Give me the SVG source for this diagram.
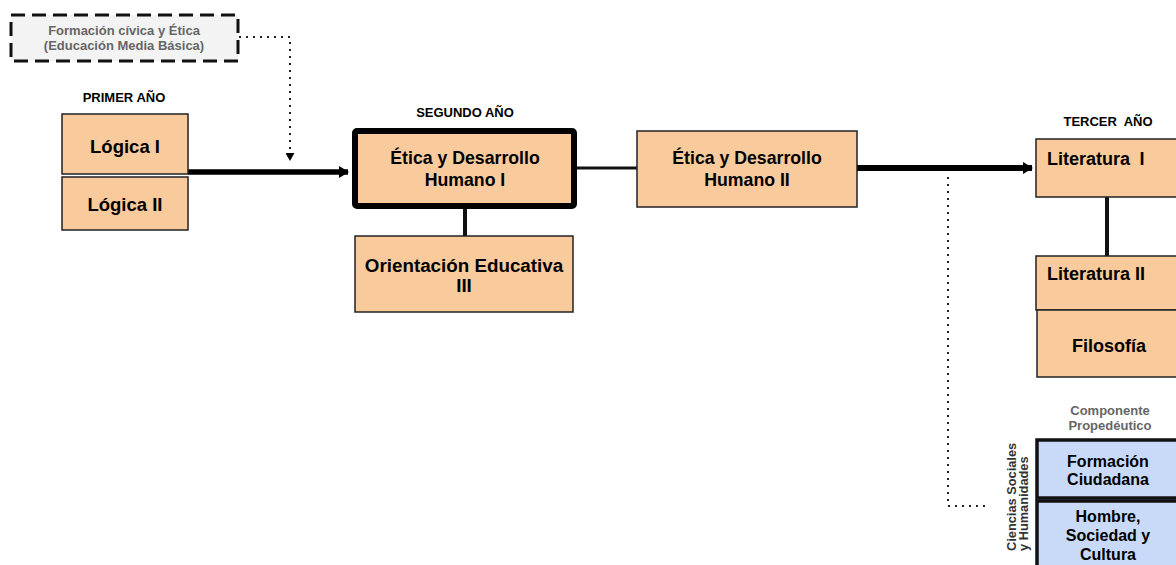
<svg xmlns="http://www.w3.org/2000/svg" width="1176" height="565" viewBox="0 0 1176 565">
<style>
text{font-family:"Liberation Sans",Arial,sans-serif;font-weight:bold;text-anchor:middle}
.o{fill:#f9cb9c;stroke:#222;stroke-width:1.5}
.b{fill:#c9daf8;stroke:#111;stroke-width:3.5}
.t{font-size:18px;fill:#000}
.lab{font-size:13px;fill:#000}
.g{font-size:13px;fill:#666}
.dot{fill:none;stroke:#222;stroke-width:2;stroke-dasharray:2 5}
</style>
<defs>
<marker id="ah" markerWidth="10" markerHeight="12" refX="9" refY="6" orient="auto" markerUnits="userSpaceOnUse"><path d="M0,0 L10,6 L0,12 Z" fill="#000"/></marker>
<marker id="ad" markerWidth="9" markerHeight="8" refX="4.5" refY="7" orient="0" markerUnits="userSpaceOnUse"><path d="M0,0 L9,0 L4.5,8 Z" fill="#000"/></marker>
</defs>
<g id="labels">
<text class="lab" x="124" y="102">PRIMER AÑO</text>
<text class="lab" x="465" y="117">SEGUNDO AÑO</text>
<text class="lab" x="1108" y="126" word-spacing="3.6">TERCER AÑO</text>
<text class="g" x="1110" y="415">Componente</text>
<text class="g" x="1110" y="430">Propedéutico</text>
<text style="text-anchor:start;fill:#333;font-size:12.8px" transform="translate(1016,551) rotate(-90)">Ciencias Sociales</text>
<text style="text-anchor:start;fill:#333;font-size:12.8px" transform="translate(1028,551) rotate(-90)">y Humanidades</text>
</g>
<g id="connectors">
<line x1="188" y1="172" x2="348" y2="172" stroke="#000" stroke-width="5.5" marker-end="url(#ah)"/>
<polyline class="dot" points="239,37 290,37 290,160" marker-end="url(#ad)"/>
<line x1="577" y1="168" x2="637" y2="168" stroke="#111" stroke-width="3"/>
<line x1="465" y1="209" x2="465" y2="236" stroke="#111" stroke-width="4"/>
<line x1="857" y1="168" x2="1032" y2="168" stroke="#000" stroke-width="6" marker-end="url(#ah)"/>
<line x1="1107" y1="197" x2="1107" y2="256" stroke="#111" stroke-width="4"/>
<polyline class="dot" points="948,177 948,506 990,506"/>
</g>
<g id="formacion-civica">
<rect x="11" y="15" width="227" height="46" fill="#f3f3f3" stroke="#111" stroke-width="3" stroke-dasharray="14 7"/>
<text class="g" x="124" y="35">Formación cívica y Ética</text>
<text class="g" x="124" y="50">(Educación Media Básica)</text>
</g>
<g id="logica1">
<rect class="o" x="62" y="114" width="126" height="60"/>
<text class="t" x="125" y="153" style="font-size:18.5px">Lógica I</text>
</g>
<g id="logica2">
<rect class="o" x="62" y="177" width="126" height="53"/>
<text class="t" x="125" y="211" style="font-size:18.5px">Lógica II</text>
</g>
<g id="etica1">
<rect x="355" y="131" width="219" height="75" rx="2" fill="#f9cb9c" stroke="#000" stroke-width="6"/>
<text class="t" x="465" y="164" style="font-size:17.7px">Ética y Desarrollo</text>
<text class="t" x="465" y="186" style="font-size:17.7px">Humano I</text>
</g>
<g id="orientacion">
<rect class="o" x="355" y="236" width="218" height="76"/>
<text class="t" x="464" y="272" style="font-size:18.8px">Orientación Educativa</text>
<text class="t" x="464" y="292" style="font-size:18.8px">III</text>
</g>
<g id="etica2">
<rect class="o" x="637" y="131" width="220" height="76"/>
<text class="t" x="747" y="164" style="font-size:17.7px">Ética y Desarrollo</text>
<text class="t" x="747" y="186" style="font-size:17.7px">Humano II</text>
</g>
<g id="literatura1">
<rect class="o" x="1036" y="139" width="150" height="58"/>
<text class="t" x="1047" y="164.5" style="text-anchor:start" word-spacing="4.5">Literatura I</text>
</g>
<g id="literatura2">
<rect class="o" x="1036" y="256" width="150" height="54"/>
<text class="t" x="1047" y="279.5" style="text-anchor:start">Literatura II</text>
</g>
<g id="filosofia">
<rect class="o" x="1037" y="310" width="150" height="67"/>
<text class="t" x="1109" y="351.5">Filosofía</text>
</g>
<g id="formacion-ciudadana">
<rect class="b" x="1037" y="440" width="150" height="58"/>
<text class="t" x="1108" y="466.5" style="font-size:16px">Formación</text>
<text class="t" x="1108" y="484.5" style="font-size:16px">Ciudadana</text>
</g>
<g id="hombre-sociedad">
<rect class="b" x="1037" y="501" width="150" height="70"/>
<text class="t" x="1108" y="521.5" style="font-size:16px">Hombre,</text>
<text class="t" x="1108" y="540.5" style="font-size:16px">Sociedad y</text>
<text class="t" x="1108" y="559.5" style="font-size:16px">Cultura</text>
</g>
</svg>
